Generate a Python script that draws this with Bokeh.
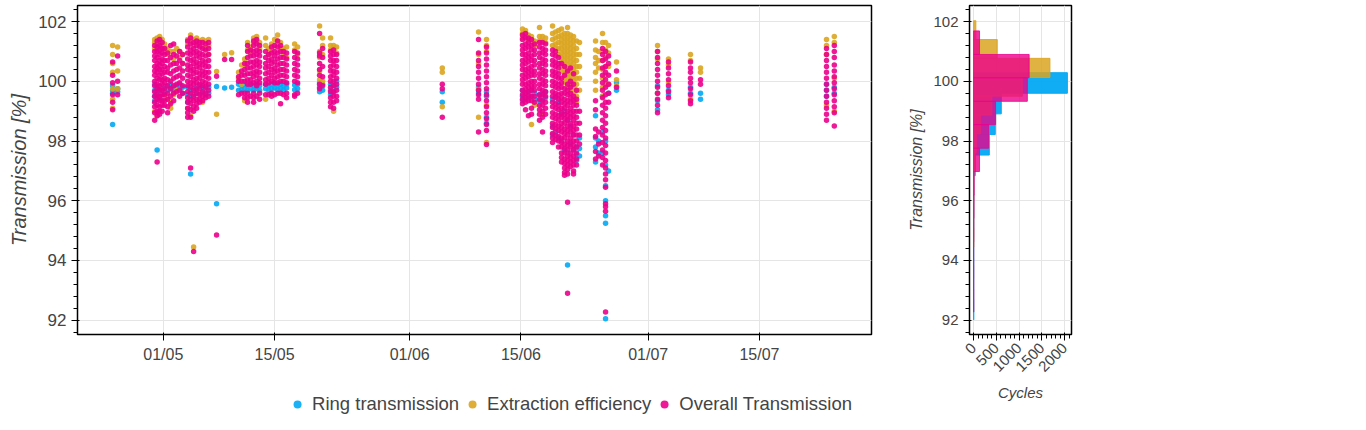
from math import pi

import pandas as pd
from bokeh.embed import file_html
from bokeh.layouts import column, row
from bokeh.models import (ColumnDataSource, DatetimeTickFormatter, DaysTicker, Legend,
                          LegendItem, Range1d, SingleIntervalTicker)
from bokeh.plotting import figure
from bokeh.resources import INLINE

FONT = "Liberation Sans"
RING_COLOR = "#03A9F4"
EXTR_COLOR = "#DAA520"
OVER_COLOR = "#EC008C"

start = pd.Timestamp("2023-05-01")

# measurement runs, in days after 1 May
run_day = [-6.38, -5.75, -1.09, -0.78, -0.47, -0.15, 0.16, 0.54, 0.92, 1.30,
           1.67, 2.05, 2.43, 3.06, 3.43, 3.81, 4.19, 4.57, 4.94, 5.32,
           5.70, 6.70, 7.71, 8.59, 9.47, 9.85, 10.23, 10.60, 10.98, 11.36,
           11.74, 12.11, 12.87, 13.25, 13.62, 14.00, 14.38, 14.75, 15.13, 15.51,
           16.52, 16.89, 19.66, 20.04, 21.04, 21.42, 21.80, 35.10, 39.66, 40.66,
           45.19, 45.57, 45.94, 46.32, 46.70, 47.33, 47.71, 48.09, 48.97, 49.35,
           49.72, 50.10, 50.48, 50.86, 51.23, 51.61, 51.99, 52.36, 54.38, 54.76,
           55.26, 55.64, 56.02, 57.02, 62.18, 63.56, 66.33, 67.59, 83.44, 84.42]

ring_runs = [
    [99.85, 99.7, 99.6, 98.55], [99.75, 99.65], [99.9, 99.7, 99.5, 99.35],
    [99.8, 99.6, 97.7], [99.7, 99.45], [99.75, 99.5], [99.8, 99.6], [99.85, 99.7],
    [99.9, 99.75], [99.8, 99.65], [99.85, 99.7], [99.9, 99.75], [99.8, 99.6],
    [99.8, 99.55, 99.3], [99.7, 99.5, 96.9], [99.75, 99.55], [99.8, 99.6],
    [99.85, 99.6], [99.8, 99.65], [99.75, 99.55], [99.8, 99.6], [99.83, 95.9],
    [99.78], [99.8],
    [99.9, 99.7], [99.85, 99.7], [99.9, 99.75], [99.85, 99.7], [99.9, 99.75],
    [99.85, 99.7], [99.9, 99.75], [99.85, 99.7], [99.9, 99.75], [99.85, 99.7],
    [99.9, 99.75], [99.92, 99.78], [99.88, 99.72], [99.9, 99.75], [99.85, 99.7],
    [99.9, 99.78], [99.88, 99.72], [99.9, 99.75],
    [99.95, 99.8, 99.65], [99.9, 99.7], [99.9, 99.7, 99.55], [99.85, 99.65],
    [100.0, 99.8], [99.65, 99.3], [99.8, 99.7, 99.6], [99.65, 99.5, 98.8, 98.6],
    [99.7, 99.5, 99.35], [99.6, 99.4], [99.65, 99.45], [99.7, 99.5], [99.6, 99.4],
    [99.55, 99.35], [99.6, 99.4], [99.65, 99.45], [99.4, 98.5, 98.2], [99.5, 98.3],
    [99.3, 98.1], [98.9, 98.0], [99.0, 97.7], [98.7, 97.6, 93.85], [98.5, 97.9],
    [98.2, 97.7], [97.8, 97.55, 97.35], [98.1, 97.75, 97.5],
    [98.85, 98.1, 97.8, 97.3], [98.0, 97.6], [99.5, 98.3, 97.6],
    [98.0, 97.2, 96.5, 96.0, 95.5, 95.25, 92.05], [99.6, 97.0], [99.95, 99.7],
    [99.85, 99.6, 99.35, 99.05], [99.7, 99.55], [99.8, 99.6], [99.6, 99.4],
    [99.9, 99.7, 99.5], [99.8, 99.6],
]

extr_runs = [
    [101.2, 100.9, 100.6, 100.3, 99.75, 99.4, 99.1], [101.15, 100.35, 99.75],
    [101.3, 101.4, 101.1, 99.0], [101.45, 101.25, 98.85], [101.5, 101.3],
    [101.4, 101.2], [101.25, 101.05, 99.5], [101.1, 100.9, 99.4], [101.0, 99.3, 99.1],
    [101.0, 100.75, 99.55], [101.1, 99.7], [101.0, 100.8], [100.9, 100.6],
    [101.4, 101.25, 99.1], [101.55, 101.35, 98.85], [101.4, 101.2, 94.45],
    [101.45, 101.3], [101.35, 101.2], [101.4, 101.15, 99.3], [101.35, 101.1],
    [101.4, 101.2, 100.9], [100.33, 98.9], [100.9], [100.96],
    [100.3, 100.1], [100.55, 99.9], [100.75, 100.55, 99.35], [101.3, 101.05],
    [101.15, 100.95], [101.45, 101.3], [101.5, 101.35], [101.3, 101.1],
    [101.45, 101.2, 99.4], [101.1, 100.9], [101.25, 101.05], [101.4, 101.2],
    [101.55, 101.35], [101.3, 101.1], [101.1, 100.9], [101.15, 100.8],
    [101.25, 101.05], [101.15, 100.9],
    [101.85, 101.0, 100.8, 100.35, 100.05], [101.45, 101.2, 100.9, 100.0],
    [101.45, 101.2, 101.05], [101.2, 101.1, 99.0], [101.15, 100.95],
    [100.45, 100.3, 99.15], [101.65, 100.9, 100.6, 99.75, 98.8],
    [101.4, 101.2, 101.0, 99.2, 97.95],
    [101.75, 101.6, 101.45], [101.7, 101.5], [101.55, 101.4], [101.5, 101.35, 98.55],
    [101.35, 101.2, 99.2], [101.8, 101.5, 101.35], [101.5, 101.35, 98.9],
    [101.45, 101.3], [101.85, 101.6, 101.4, 101.2], [101.65, 101.45, 101.25, 101.1],
    [101.7, 101.5, 101.3, 101.1, 100.9],
    [101.75, 101.55, 101.4, 101.25, 101.1, 100.95, 100.8, 100.65, 100.5, 100.35],
    [101.6, 101.45, 101.3, 101.15, 101.0, 100.85, 100.7, 100.55, 100.4, 100.25,
     100.1, 99.95],
    [101.8, 101.6, 101.45, 101.3, 101.15, 101.0, 100.85, 100.7, 100.55, 100.4,
     100.25, 100.1, 99.95, 99.8],
    [101.55, 101.4, 101.25, 101.1, 100.95, 100.8, 100.65, 100.5, 100.35, 100.2,
     100.05, 99.9, 99.7],
    [101.5, 101.35, 101.2, 101.05, 100.9, 100.75, 100.6, 100.45, 100.3, 100.15,
     100.0, 99.8, 99.6, 99.4],
    [101.35, 101.1, 100.9, 100.7, 100.5, 100.3, 100.1, 99.9, 99.7, 99.5, 99.3],
    [101.3, 100.9, 100.5, 100.1, 99.7], [101.35, 101.05, 100.8, 100.6, 100.3, 100.0, 99.7],
    [101.0, 100.7, 100.45], [101.6, 101.3, 101.0, 100.7, 100.4, 100.1, 99.8, 99.5],
    [101.3, 101.05, 100.8, 100.5, 100.2, 99.9], [101.2, 100.95, 100.5, 99.9],
    [100.65, 100.05, 99.85], [101.2, 101.0, 100.75, 99.6], [100.75, 100.55, 99.95],
    [100.9, 100.7, 99.4], [100.45, 100.3], [101.4, 101.2, 100.9, 99.2],
    [101.5, 101.3, 100.1, 99.0],
]

over_runs = [
    [100.65, 100.2, 99.95, 99.55, 99.3, 99.05], [100.85, 100.0, 99.55],
    [101.2, 101.0, 100.85, 100.7, 100.5, 100.35, 100.2, 100.0, 99.85, 99.65, 99.5,
     99.3, 99.15, 98.95, 98.7],
    [101.35, 101.15, 101.0, 100.8, 100.6, 100.45, 100.3, 100.1, 99.9, 99.75, 99.55,
     99.4, 99.2, 99.0, 98.85, 97.3],
    [101.4, 101.2, 101.05, 100.9, 100.7, 100.55, 100.4, 100.2, 100.05, 99.85, 99.7,
     99.5, 99.35, 99.15, 99.0, 98.9],
    [101.3, 101.1, 100.95, 100.75, 100.6, 100.4, 100.25, 100.05, 99.9, 99.7, 99.55,
     99.35, 99.2, 99.0],
    [101.1, 100.9, 100.7, 100.5, 100.3, 100.1, 99.95, 99.75, 99.55, 99.35, 99.2],
    [100.95, 100.7, 100.45, 100.3, 100.05, 99.85, 99.6, 99.4, 99.15, 98.95],
    [101.2, 100.8, 100.55, 100.25, 100.0, 99.75, 99.5, 99.25],
    [101.25, 100.9, 100.6, 100.35, 100.1, 99.85, 99.6, 99.35],
    [100.85, 100.6, 100.4, 100.15, 99.9, 99.65],
    [101.0, 100.7, 100.45, 100.2, 99.95, 99.7, 99.5],
    [100.9, 100.6, 100.35, 100.1, 99.85, 99.6],
    [101.35, 101.15, 100.95, 100.75, 100.55, 100.4, 100.2, 100.0, 99.85, 99.65,
     99.45, 99.3, 99.1, 98.95, 98.8],
    [101.45, 101.25, 101.05, 100.9, 100.7, 100.5, 100.35, 100.15, 99.95, 99.8, 99.6,
     99.4, 99.25, 99.05, 98.8, 97.1],
    [101.3, 101.1, 100.95, 100.75, 100.6, 100.4, 100.25, 100.05, 99.9, 99.7, 99.5,
     99.35, 99.15, 99.0, 94.3],
    [101.35, 101.2, 101.0, 100.85, 100.65, 100.5, 100.3, 100.1, 99.95, 99.75, 99.6,
     99.4, 99.25, 99.1],
    [101.3, 101.15, 100.95, 100.8, 100.6, 100.45, 100.25, 100.1, 99.9, 99.75, 99.55,
     99.4, 99.3],
    [101.3, 101.1, 100.9, 100.7, 100.55, 100.35, 100.2, 100.0, 99.85, 99.65, 99.5, 99.35],
    [101.25, 101.05, 100.85, 100.65, 100.5, 100.3, 100.15, 99.95, 99.8, 99.6, 99.45],
    [101.3, 101.1, 100.9, 100.7, 100.5, 100.3, 100.1, 99.9, 99.7, 99.5],
    [100.17, 94.85], [100.73], [100.73],
    [100.15, 100.0, 99.55], [100.35, 100.2, 100.0, 99.6],
    [100.6, 100.4, 100.2, 100.0, 99.6, 99.45],
    [101.2, 101.0, 100.8, 100.6, 100.45, 100.25, 100.05, 99.9, 99.6, 99.45, 99.3],
    [101.05, 100.85, 100.65, 100.45, 100.25, 100.05, 99.9, 99.5],
    [101.35, 101.2, 101.0, 100.85, 100.65, 100.5, 100.3, 100.15, 99.95, 99.6, 99.45, 99.3],
    [101.4, 101.25, 101.05, 100.9, 100.7, 100.55, 100.35, 100.2, 100.0, 99.85, 99.5],
    [101.2, 101.0, 100.85, 100.65, 100.5, 100.3, 100.1, 99.95, 99.6, 99.4],
    [101.0, 100.8, 100.6, 100.45, 100.25, 100.05, 99.9, 99.55],
    [100.9, 100.7, 100.5, 100.3, 100.1, 99.95, 99.55],
    [101.15, 100.95, 100.75, 100.6, 100.4, 100.2, 100.0, 99.6, 99.5],
    [101.2, 101.0, 100.85, 100.65, 100.45, 100.3, 100.1, 99.95, 99.55],
    [101.35, 101.15, 100.95, 100.75, 100.55, 100.35, 100.15, 99.95, 99.6],
    [101.2, 101.0, 100.8, 100.6, 100.4, 100.2, 100.0, 99.6, 99.25],
    [101.0, 100.8, 100.6, 100.4, 100.2, 100.0, 99.55],
    [100.95, 100.75, 100.55, 100.35, 100.15, 99.95, 99.6, 99.45],
    [101.0, 100.8, 100.6, 100.4, 100.2, 100.0, 99.55, 99.5],
    [100.95, 100.75, 100.55, 100.35, 100.15, 99.95, 99.6],
    [101.6, 100.95, 100.85, 100.6, 100.4, 100.2, 99.9, 99.75],
    [101.1, 100.8, 100.5, 100.15, 99.85],
    [101.0, 100.85, 100.7, 100.5, 100.35, 100.15, 100.0, 99.8, 99.65, 99.45, 99.3, 99.15],
    [101.05, 100.9, 100.7, 100.55, 100.35, 100.2, 100.0, 99.85, 99.65, 99.5, 99.3, 99.1],
    [100.9, 100.7, 100.5, 100.3, 100.1, 99.9, 99.7, 99.5, 99.35],
    [99.9, 99.75, 98.8],
    [101.4, 100.95, 100.7, 100.5, 100.3, 100.1, 99.9, 99.7, 99.55, 99.4, 98.3],
    [101.15, 100.95, 100.75, 100.55, 100.35, 100.15, 99.95, 99.75, 99.55, 99.35,
     99.15, 98.95, 98.75, 98.55, 98.35, 97.88],
    [101.55, 101.4, 101.2, 101.05, 100.9, 100.7, 100.55, 100.4, 100.2, 100.05, 99.9,
     99.7, 99.55, 99.4, 99.25],
    [101.6, 101.45, 101.25, 101.1, 100.9, 100.75, 100.6, 100.4, 100.25, 100.1, 99.9,
     99.75, 99.6, 99.45, 99.3, 99.05],
    [101.45, 101.3, 101.15, 100.95, 100.8, 100.65, 100.45, 100.3, 100.15, 99.95, 99.8,
     99.65, 99.5, 99.35, 98.85],
    [101.4, 101.2, 101.05, 100.85, 100.7, 100.5, 100.35, 100.2, 100.0, 99.85, 99.7,
     99.5, 99.35, 99.1, 98.9],
    [101.25, 101.05, 100.9, 100.7, 100.55, 100.35, 100.2, 100.0, 99.85, 99.7, 99.5, 99.3],
    [101.3, 101.15, 100.95, 100.8, 100.6, 100.45, 100.25, 100.1, 99.9, 99.75, 99.55,
     99.4, 99.2, 99.05, 98.9, 98.7],
    [101.3, 101.1, 100.95, 100.75, 100.6, 100.4, 100.25, 100.05, 99.9, 99.7, 99.55,
     99.35, 99.2, 99.0, 98.8, 98.3],
    [101.25, 101.05, 100.9, 100.7, 100.55, 100.35, 100.2, 100.0, 99.85, 99.65, 99.5,
     99.3, 99.1, 98.9],
    [101.05, 100.9, 100.7, 100.55, 100.35, 100.2, 100.0, 99.85, 99.65, 99.5, 99.3,
     99.15, 98.95, 98.8, 98.6, 98.45, 98.25, 98.1, 97.95],
    [101.0, 100.85, 100.65, 100.5, 100.3, 100.15, 99.95, 99.8, 99.6, 99.45, 99.25,
     99.1, 98.9, 98.75, 98.55, 98.4, 98.2, 98.05],
    [100.8, 100.6, 100.45, 100.25, 100.1, 99.9, 99.75, 99.55, 99.4, 99.2, 99.05,
     98.85, 98.7, 98.5, 98.35, 98.15, 98.0, 97.8],
    [100.6, 100.1, 99.95, 99.8, 99.6, 99.45, 99.3, 99.1, 98.95, 98.8, 98.6, 98.45,
     98.3, 98.1, 97.95, 97.8, 97.6, 97.45, 97.3],
    [100.5, 100.2, 99.75, 99.6, 99.4, 99.25, 99.1, 98.9, 98.75, 98.6, 98.4, 98.25,
     98.1, 97.9, 97.75, 97.6, 97.4, 97.25, 97.1, 96.95, 96.85],
    [100.35, 99.9, 99.7, 99.55, 99.35, 99.2, 99.0, 98.85, 98.7, 98.5, 98.35, 98.2,
     98.0, 97.85, 97.7, 97.5, 97.35, 97.2, 97.05, 96.9, 95.95, 92.9],
    [100.45, 100.0, 99.8, 99.6, 99.45, 99.3, 99.1, 98.95, 98.8, 98.6, 98.45, 98.3,
     98.1, 97.95, 97.8, 97.6, 97.45, 97.3, 97.15],
    [100.25, 99.9, 99.5, 99.35, 99.2, 99.0, 98.85, 98.7, 98.5, 98.35, 98.2, 98.0,
     97.85, 97.7, 97.5, 97.35, 97.2, 97.0, 96.9],
    [99.7, 99.4, 99.2, 99.0, 98.8, 98.6, 98.4, 98.2, 98.0, 97.8, 97.6, 97.4, 97.2],
    [99.0, 98.6, 98.2, 97.9], [99.35, 99.05, 98.4, 98.15, 97.65, 97.4], [98.3, 97.9, 97.5],
    [101.1, 100.9, 100.7, 100.45, 100.2, 99.95, 99.7, 99.45, 99.2, 98.95, 98.7, 98.45,
     98.2, 97.95, 97.7, 97.45, 97.2],
    [101.0, 100.75, 100.5, 100.3, 100.05, 99.8, 99.55, 99.3, 99.1, 98.85, 98.6, 98.35,
     98.1, 97.85, 97.6, 97.35, 97.1, 96.9, 96.7, 96.45, 95.9, 95.8, 95.65, 92.27],
    [100.85, 100.6, 100.2, 99.9, 99.6, 99.3], [100.35, 99.8],
    [101.0, 100.8, 100.6, 100.4, 100.2, 100.0, 99.8, 99.6, 99.4, 99.2, 98.95],
    [100.65, 100.45, 100.25, 100.05, 99.85, 99.65, 99.45],
    [100.65, 100.45, 100.3, 100.1, 99.95, 99.75, 99.55, 99.35, 99.25],
    [100.05, 99.9],
    [101.1, 100.9, 100.7, 100.5, 100.3, 100.1, 99.9, 99.7, 99.5, 99.3, 99.1, 98.9, 98.7],
    [101.2, 101.0, 100.8, 100.55, 100.35, 100.15, 99.95, 99.75, 99.55, 99.35, 99.15,
     98.95, 98.5],
]

# histogram bins (bin edges, counts per bin)
ring_edges = [92.01, 92.70, 93.39, 94.08, 94.77, 95.46, 96.15, 96.84, 97.53, 98.22,
              98.91, 99.60, 100.29]
ring_counts = [4, 2, 3, 2, 3, 5, 6, 37, 345, 476, 608, 2060]
extr_edges = [94.45, 95.08, 95.71, 96.34, 96.98, 97.61, 98.24, 98.87, 99.50, 100.13,
              100.77, 101.40, 102.03]
extr_counts = [3, 1, 2, 4, 20, 60, 150, 400, 1070, 1677, 520, 50]
over_edges = [92.27, 93.05, 93.84, 94.62, 95.41, 96.19, 96.98, 97.76, 98.55, 99.33,
              100.12, 100.90, 101.69]
over_counts = [3, 2, 1, 4, 8, 12, 130, 330, 483, 1180, 1220, 130]

series_labels = ["Ring transmission", "Extraction efficiency", "Overall Transmission"]


def run_source(runs):
    xs, ys = [], []
    for d, vals in zip(run_day, runs):
        xs += [start + pd.Timedelta(days=d)] * len(vals)
        ys += vals
    return ColumnDataSource(data=dict(x=pd.to_datetime(xs), y=ys))


def style_axes(fig, tick_size, label_size):
    for ax in (fig.xaxis, fig.yaxis):
        ax.major_label_text_font = FONT
        ax.major_label_text_font_size = tick_size
        ax.axis_label_text_font = FONT
        ax.axis_label_text_font_size = label_size
        ax.axis_label_text_font_style = "italic"
        ax.axis_label_text_color = "#444444"
        ax.major_label_text_color = "#444444"
    fig.outline_line_color = "black"
    fig.outline_line_width = 1.5


y_range = Range1d(91.52, 102.54)
colors = [RING_COLOR, EXTR_COLOR, OVER_COLOR]
sources = [run_source(r) for r in (ring_runs, extr_runs, over_runs)]

p = figure(frame_width=794, frame_height=329, x_axis_type="datetime",
           x_range=Range1d(start + pd.Timedelta(days=-10.8), start + pd.Timedelta(days=89.1)),
           y_range=y_range, output_backend="svg", toolbar_location=None,
           min_border_left=77, min_border_right=30, min_border_bottom=52)

for src, c in zip(sources, colors):
    p.scatter("x", "y", source=src, size=5.5, fill_color=c, line_color=None, fill_alpha=0.9)

p.xaxis.ticker = DaysTicker(days=[1, 15])
p.xaxis.formatter = DatetimeTickFormatter(days="%d/%m", months="%d/%m")
p.yaxis.axis_label = "Transmission [%]"
style_axes(p, "16px", "20px")
p.yaxis.major_label_text_font_size = "17px"

# legend strip under the scatter plot; its ranges keep the data out of view
leg = figure(width=901, height=36, output_backend="svg", toolbar_location=None,
             x_range=Range1d(0, 1), y_range=Range1d(0, 1),
             x_axis_location=None, y_axis_location=None, min_border=0)
leg.grid.visible = False
leg.outline_line_color = None
items = []
for label, src, c in zip(series_labels, sources, colors):
    r = leg.scatter("x", "y", source=src, size=5.5, fill_color=c, line_color=None,
                    fill_alpha=0.9)
    items.append(LegendItem(label=label, renderers=[r]))
leg.add_layout(Legend(items=items, orientation="horizontal", location="right", margin=19,
                      label_text_font=FONT, label_text_font_size="18.5px",
                      label_text_color="#444444", border_line_color=None, padding=6))

h = figure(frame_width=102, frame_height=329, x_range=Range1d(-90, 2150), y_range=y_range,
           output_backend="svg", toolbar_location=None,
           min_border_left=68, min_border_right=29)

h.quad(left=0, right=ring_counts, bottom=ring_edges[:-1], top=ring_edges[1:],
       fill_color=RING_COLOR, line_color=RING_COLOR, fill_alpha=0.95, line_alpha=0.95)
h.quad(left=0, right=extr_counts, bottom=extr_edges[:-1], top=extr_edges[1:],
       fill_color=EXTR_COLOR, line_color=EXTR_COLOR, fill_alpha=0.85, line_alpha=0.85)
h.quad(left=0, right=over_counts, bottom=over_edges[:-1], top=over_edges[1:],
       fill_color=OVER_COLOR, line_color=OVER_COLOR, fill_alpha=0.8, line_alpha=0.8)

h.xaxis.ticker = SingleIntervalTicker(interval=500, num_minor_ticks=5)
h.xaxis.major_label_orientation = pi / 4
h.xaxis.axis_label = "Cycles"
h.yaxis.axis_label = "Transmission [%]"
style_axes(h, "15px", "16px")
h.xaxis.axis_label_text_font_size = "15px"

layout = row(column(p, leg), h)
open("out.html", "w").write(file_html(layout, INLINE))
